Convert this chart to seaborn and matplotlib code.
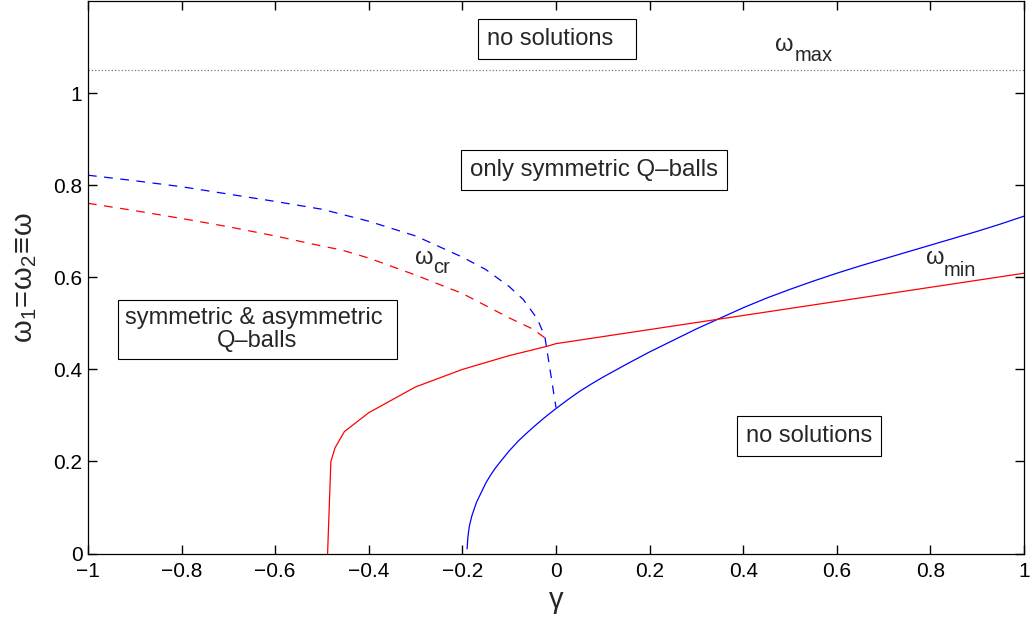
import matplotlib
matplotlib.use("Agg")
import matplotlib.pyplot as plt
import pandas as pd
import seaborn as sns

# omega_min(gamma): lower bound of symmetric Q-balls (blue, solid)
gamma_min = [-0.19, -0.188, -0.185, -0.18, -0.17, -0.16, -0.15, -0.14, -0.13, -0.12,
             -0.10, -0.08, -0.06, -0.04, -0.02, 0.0, 0.025, 0.05, 0.075, 0.10,
             0.15, 0.20, 0.25, 0.30, 0.35, 0.40, 0.45, 0.50, 0.55, 0.60,
             0.65, 0.70, 0.75, 0.80, 0.85, 0.90, 0.95, 1.00]
omega_min = [0.010, 0.038, 0.060, 0.081, 0.111, 0.132, 0.153, 0.170, 0.185, 0.198,
             0.223, 0.245, 0.264, 0.282, 0.299, 0.315, 0.334, 0.352, 0.368, 0.383,
             0.411, 0.438, 0.463, 0.488, 0.511, 0.534, 0.555, 0.574, 0.592, 0.609,
             0.625, 0.640, 0.655, 0.670, 0.685, 0.700, 0.716, 0.733]

# lower bound of asymmetric Q-balls (red, solid)
gamma_asym = [-0.488, -0.481, -0.472, -0.452, -0.40, -0.30, -0.20, -0.10, -0.02, 0.0, 1.0]
omega_asym = [0.0, 0.200, 0.230, 0.265, 0.306, 0.362, 0.400, 0.430, 0.450, 0.456, 0.609]

# omega_cr branches (dashed)
gamma_cr_blue = [-1.0, -0.9, -0.8, -0.7, -0.6, -0.5, -0.4, -0.3, -0.2, -0.15,
                 -0.1, -0.07, -0.04, -0.024, -0.019, 0.0]
omega_cr_blue = [0.822, 0.810, 0.797, 0.781, 0.765, 0.748, 0.722, 0.690, 0.644, 0.617,
                 0.580, 0.552, 0.510, 0.472, 0.440, 0.317]
gamma_cr_red = [-1.0, -0.9, -0.8, -0.7, -0.6, -0.5, -0.46, -0.4, -0.3, -0.2,
                -0.1, -0.05, -0.023]
omega_cr_red = [0.761, 0.745, 0.728, 0.710, 0.690, 0.668, 0.660, 0.642, 0.605, 0.565,
                0.512, 0.488, 0.468]

# upper bound omega_max over the whole gamma range
gamma_range = [-1.0, 1.0]
omega_max = [1.05, 1.05]

x_ticks = [-1, -0.8, -0.6, -0.4, -0.2, 0, 0.2, 0.4, 0.6, 0.8, 1]
x_tick_labels = ["\u22121", "\u22120.8", "\u22120.6", "\u22120.4", "\u22120.2", "0",
                 "0.2", "0.4", "0.6", "0.8", "1"]
y_ticks = [0, 0.2, 0.4, 0.6, 0.8, 1]
y_tick_labels = ["0", "0.2", "0.4", "0.6", "0.8", "1"]

sns.set_theme(style="ticks")
plt.rcParams["font.family"] = ["Liberation Sans", "DejaVu Sans"]
plt.rcParams["mathtext.fontset"] = "custom"
plt.rcParams["mathtext.rm"] = "Liberation Sans"
plt.rcParams["mathtext.it"] = "Liberation Sans:italic"

fig = plt.figure(figsize=(10.3, 6.19), dpi=100)
ax = fig.add_axes([0.0854, 0.1058, 0.9088, 0.8922])

curves = [
    (gamma_min, omega_min, "#0000ff", "-"),
    (gamma_asym, omega_asym, "#ff0000", "-"),
    (gamma_cr_blue, omega_cr_blue, "#0000ff", "--"),
    (gamma_cr_red, omega_cr_red, "#ff0000", "--"),
]
for gx, gy, col, ls in curves:
    df = pd.DataFrame({"gamma": gx, "omega": gy})
    sns.lineplot(x="gamma", y="omega", data=df, ax=ax, color=col, lw=0.9,
                 sort=False, estimator=None)
    if ls == "--":
        ax.lines[-1].set_dashes((7, 6))

df_max = pd.DataFrame({"gamma": gamma_range, "omega": omega_max})
sns.lineplot(x="gamma", y="omega", data=df_max, ax=ax, color="#8a6a96",
             lw=0.9, sort=False, estimator=None)
ax.lines[-1].set_linestyle(":")

ax.set_xlim(-1, 1)
ax.set_ylim(0, 1.2)
ax.set_xticks(x_ticks)
ax.set_xticklabels(x_tick_labels)
ax.set_yticks(y_ticks)
ax.set_yticklabels(y_tick_labels)
ax.tick_params(which="both", direction="in", top=True, right=True, length=6.5,
               width=1.0, labelsize=15, color="black", labelcolor="black")
ax.tick_params(axis="x", pad=6)
ax.tick_params(axis="y", pad=4)
for sp in ax.spines.values():
    sp.set_visible(True)
    sp.set_color("black")
    sp.set_linewidth(0.9)

ax.set_xlabel("\u03b3", fontsize=21, labelpad=4)
ax.set_ylabel(r"$\mathrm{\omega_1\!=\!\omega_2\!\equiv\!\omega}$", fontsize=21, labelpad=10)

# region labels
box = dict(boxstyle="square,pad=0.38", fc="white", ec="black", lw=0.8)
ax.text(-0.147, 1.1055, "no solutions  ", fontsize=17, ha="left", va="baseline", bbox=box)
ax.text(-0.184, 0.820, "only symmetric Q\u2013balls", fontsize=17.3, ha="left",
        va="baseline", bbox=box)
ax.text(-0.638, 0.487, "symmetric & asymmetric \nQ\u2013balls", fontsize=17,
        ha="center", va="center", multialignment="center", linespacing=1.05,
        bbox=dict(boxstyle="square,pad=0.3", fc="white", ec="black", lw=0.8))
ax.text(0.406, 0.242, "no solutions", fontsize=17, ha="left", va="baseline", bbox=box)

# curve names: omega with a subscript
def omega_label(xw, yw, xs, ys, sub):
    ax.text(xw, yw, "\u03c9", fontsize=17, ha="center", va="center")
    ax.text(xs, ys, sub, fontsize=14.5, ha="left", va="baseline")

omega_label(0.487, 1.104, 0.509, 1.070, "max")
omega_label(-0.282, 0.642, -0.2635, 0.610, "cr")
omega_label(0.810, 0.642, 0.829, 0.602, "min")

fig.savefig("out.png", dpi=100)
